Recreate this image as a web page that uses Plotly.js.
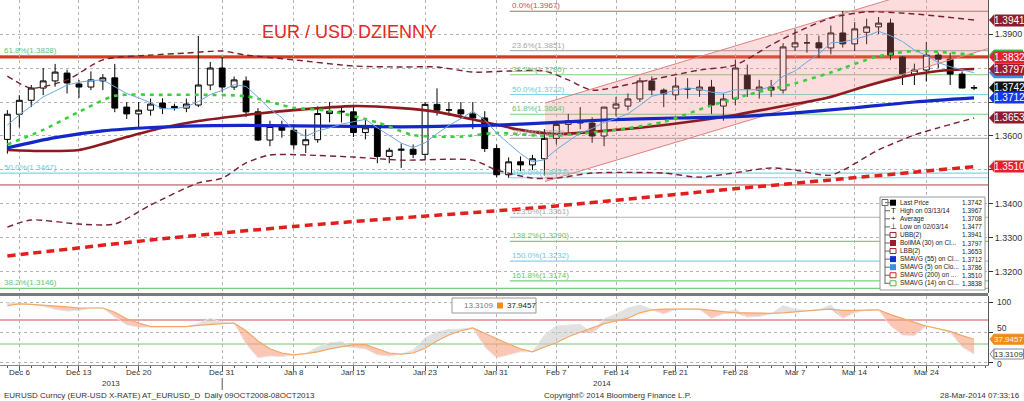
<!DOCTYPE html>
<html><head><meta charset="utf-8">
<script src="https://cdn.plot.ly/plotly-3.0.1.min.js"></script>
<style>html,body{margin:0;padding:0;background:#fff}#chart{width:1024px;height:401px}</style>
</head><body><div id="chart"></div><script>
// ---------- DATA ----------
const tickIdx  = [1,6,11,18,24,29,35,41,46,51,56,61,66,71,77];
const tickText = ["Dec 6","Dec 13","Dec 20","Dec 31","Jan 8","Jan 15","Jan 23","Jan 31","Feb 7","Feb 14","Feb 21","Feb 28","Mar 7","Mar 14","Mar 24"];

const open  = [1.3590,1.3664,1.3705,1.3741,1.3762,1.3785,1.3753,1.3744,1.3762,1.3771,1.3685,1.3665,1.3676,1.3697,1.3687,1.3682,1.3691,1.3750,1.3800,1.3744,1.3762,1.3671,1.3588,1.3628,1.3617,1.3574,1.3589,1.3666,1.3673,1.3671,1.3610,1.3624,1.3540,1.3558,1.3561,1.3546,1.3693,1.3676,1.3677,1.3665,1.3653,1.3563,1.3486,1.3524,1.3515,1.3533,1.3593,1.3634,1.3645,1.3638,1.3600,1.3682,1.3688,1.3709,1.3762,1.3735,1.3721,1.3740,1.3735,1.3744,1.3688,1.3709,1.3779,1.3735,1.3744,1.3735,1.3862,1.3874,1.3874,1.3859,1.3903,1.3871,1.3905,1.3921,1.3932,1.3832,1.3782,1.3794,1.3838,1.3826,1.3782,1.3741];
const high  = [1.3676,1.3720,1.3750,1.3800,1.3812,1.3795,1.3765,1.3790,1.3782,1.3812,1.3700,1.3700,1.3710,1.3711,1.3695,1.3710,1.3894,1.3818,1.3832,1.3775,1.3775,1.3682,1.3645,1.3645,1.3635,1.3620,1.3687,1.3700,1.3687,1.3685,1.3650,1.3633,1.3565,1.3578,1.3575,1.3700,1.3740,1.3700,1.3700,1.3700,1.3673,1.3575,1.3537,1.3540,1.3545,1.3620,1.3640,1.3665,1.3685,1.3655,1.3685,1.3715,1.3725,1.3772,1.3775,1.3740,1.3773,1.3770,1.3765,1.3765,1.3725,1.3825,1.3810,1.3765,1.3765,1.3873,1.3915,1.3900,1.3895,1.3925,1.3967,1.3935,1.3945,1.3950,1.3945,1.3835,1.3813,1.3877,1.3845,1.3845,1.3790,1.3750];
const low   = [1.3548,1.3625,1.3685,1.3720,1.3745,1.3725,1.3712,1.3735,1.3735,1.3670,1.3650,1.3625,1.3660,1.3665,1.3675,1.3670,1.3685,1.3735,1.3730,1.3735,1.3656,1.3585,1.3570,1.3595,1.3560,1.3550,1.3580,1.3640,1.3640,1.3597,1.3590,1.3520,1.3520,1.3506,1.3535,1.3530,1.3660,1.3660,1.3650,1.3620,1.3553,1.3478,1.3477,1.3497,1.3500,1.3484,1.3575,1.3605,1.3620,1.3580,1.3570,1.3658,1.3675,1.3700,1.3720,1.3685,1.3705,1.3710,1.3715,1.3665,1.3645,1.3690,1.3715,1.3710,1.3715,1.3725,1.3850,1.3845,1.3830,1.3840,1.3860,1.3850,1.3870,1.3900,1.3823,1.3750,1.3750,1.3760,1.3800,1.3750,1.3740,1.3735];
const close = [1.3664,1.3705,1.3741,1.3762,1.3788,1.3756,1.3744,1.3765,1.3771,1.3682,1.3665,1.3676,1.3694,1.3682,1.3683,1.3694,1.3750,1.3800,1.3744,1.3765,1.3671,1.3588,1.3628,1.3617,1.3574,1.3589,1.3666,1.3673,1.3671,1.3610,1.3624,1.3540,1.3558,1.3561,1.3546,1.3693,1.3676,1.3677,1.3665,1.3653,1.3563,1.3486,1.3524,1.3515,1.3533,1.3593,1.3634,1.3645,1.3638,1.3600,1.3685,1.3694,1.3709,1.3762,1.3735,1.3724,1.3747,1.3738,1.3744,1.3691,1.3709,1.3800,1.3738,1.3744,1.3735,1.3862,1.3874,1.3874,1.3859,1.3903,1.3871,1.3915,1.3921,1.3932,1.3838,1.3782,1.3794,1.3838,1.3826,1.3782,1.3741,1.3742];

const sma5 = [1.3632,1.3662,1.3688,1.3715,1.3732,1.3750,1.3758,1.3763,1.3765,1.3744,1.3725,1.3712,1.3698,1.3680,1.3680,1.3686,1.3701,1.3722,1.3734,1.3751,1.3746,1.3714,1.3679,1.3654,1.3616,1.3599,1.3615,1.3624,1.3635,1.3642,1.3649,1.3624,1.3601,1.3579,1.3566,1.3580,1.3607,1.3631,1.3651,1.3673,1.3647,1.3609,1.3578,1.3548,1.3524,1.3530,1.3560,1.3584,1.3609,1.3622,1.3640,1.3652,1.3665,1.3690,1.3717,1.3725,1.3735,1.3741,1.3738,1.3729,1.3726,1.3736,1.3736,1.3736,1.3745,1.3776,1.3791,1.3818,1.3841,1.3874,1.3876,1.3884,1.3894,1.3908,1.3895,1.3878,1.3853,1.3837,1.3816,1.3804,1.3796,1.3786];

const sma14I = [0,3,6,9,13,16,20,24,27,31,34,38,41,45,48,52,55,59,62,66,69,73,76,79,81];
const sma14V = [1.3575,1.3618,1.3671,1.3718,1.3721,1.3721,1.3717,1.3683,1.3674,1.3640,1.3603,1.3598,1.3609,1.3600,1.3607,1.3623,1.3642,1.3690,1.3721,1.3755,1.3787,1.3835,1.3850,1.3845,1.3838];

const sma55I = [0,4,8,12,16,20,24,29,33,37,41,46,50,56,61,66,71,76,81];
const sma55V = [1.3565,1.3595,1.3615,1.3625,1.3630,1.3631,1.3630,1.3628,1.3627,1.3629,1.3632,1.3640,1.3647,1.3653,1.3657,1.3668,1.3683,1.3700,1.3712];

const sma200I = [0,12,24,33,45,58,70,81];
const sma200V = [1.3247,1.3294,1.3334,1.3359,1.3391,1.3435,1.3474,1.3510];

const bollI = [0,3,6,10,13,16,20,24,29,33,36,40,43,46,49,53,57,61,65,69,72,75,78,81];
const bollV = [1.3559,1.3556,1.3559,1.3597,1.3624,1.3644,1.3662,1.3676,1.3688,1.3682,1.3671,1.3641,1.3618,1.3606,1.3612,1.3624,1.3641,1.3662,1.3688,1.3715,1.3747,1.3774,1.3791,1.3797];

const ubbI = [0,2,5,8,12,15,18,20,24,29,33,36,39,42,45,47,49,53,58,61,64,66,69,72,76,81];
const ubbV = [1.3776,1.3741,1.3765,1.3824,1.3838,1.3844,1.3850,1.3838,1.3824,1.3806,1.3803,1.3803,1.3788,1.3791,1.3791,1.3765,1.3735,1.3759,1.3794,1.3809,1.3868,1.3903,1.3947,1.3965,1.3959,1.3941];

const lbbI = [0,2,6,9,12,16,18,20,22,25,29,33,39,41,44,46,49,55,58,64,66,69,73,76,78,81];
const lbbV = [1.3332,1.3353,1.3341,1.3341,1.3397,1.3462,1.3476,1.3521,1.3544,1.3544,1.3538,1.3529,1.3529,1.3500,1.3476,1.3476,1.3491,1.3491,1.3479,1.3506,1.3500,1.3485,1.3559,1.3603,1.3624,1.3653];

// regression channel (start index, end index) and its edges
const chanX     = [45.05, 82.17];
const chanUpper = [1.3697, 1.4088];
const chanLower = [1.3466, 1.3857];

// Fibonacci set drawn from the 02/03 low (starts at index 42.1)
const fibStart = 42.1;
const fibPct   = ["0.0%","23.6%","38.2%","50.0%","61.8%","76.4%","100.0%","123.6%","138.2%","150.0%","161.8%"];
const fibVal   = [1.3967,1.3851,1.3780,1.3722,1.3664,1.3593,1.3477,1.3361,1.3290,1.3232,1.3174];
const fibKind  = ["r","g","G","c","G","g","c","g","G","c","G"];
// full-width older fib set
const oldPct = ["61.8%","50.0%","38.2%"];
const oldVal = [1.3828,1.3467,1.3146];
const oldLineVal = [1.3836,1.3491,1.3152];
const oldKind = ["G","c","G"];
const redLevel = 1.3832;
const brownLevel = 1.3456;

// oscillator
const oscA = [94,97,96,95,94,92,90,90,90,83,72,65,59,59,59,59,61,63,64,65,52,35,22,15,12,14,17,22,26,29,29,22,15,13,15,23,35,45,52,57,48,38,30,22,17,25,32,42,50,57,64,69,73,82,87,88,88,88,88,86,84,82,82,81,81,82,84,85,87,88,86,86,87,87,79,72,66,60,55,51,44,37.9457];
const oscB = [99,98,96,93,88,85,86,90,90,75,62,58,59,59,59,59,64,73,66,65,30,7,10,9,12,14,25,32,34,24,22,12,10,13,20,40,50,54,55,57,25,7,12,17,17,45,60,62,63,48,72,80,90,95,87,80,88,88,88,73,80,88,75,76,80,94,88,86,87,95,73,82,87,87,60,45,44,60,55,50,25,13.3109];
const oscUpper = 70, oscLower = 30;

// right-hand value tags (first two are hidden under the others: drawn without text)
const tagVals   = [1.3838,1.3786,1.3941,1.3832,1.3797,1.3742,1.3712,1.3653,1.3510];
const tagColors = ["#3cb03c","#3c8edc","#8c1c2c","#e4202c","#9c1c30","#101010","#1438e8","#8c1c2c","#e4202c"];
const tagShown  = [false,false,true,true,true,true,true,true,true];

// legend
const legNames = ["Last Price","High on 03/13/14","Average","Low on 02/03/14","UBB(2)","BollMA (30) on Cl...","LBB(2)","SMAVG (55) on Cl...","SMAVG (5) on Clo...","SMAVG (200) on ...","SMAVG (14) on Cl..."];
const legVals  = ["1.3742","1.3967","1.3708","1.3477","1.3941","1.3797","1.3653","1.3712","1.3786","1.3510","1.3838"];
const legIcon  = ["sq:#000","T","+","L","br:#a02030","sq:#9c1c30","br:#a02030","sq:#1030d0","sq:#3c90e0","br:#e02020","br:#40c040"];

// ---------- LAYOUT HELPERS ----------
const W = 988, H = 365;
const PX = x => x / W;
const PY = y => (H - y) / H;
const FONT = "Liberation Sans, Arial, sans-serif";
const idx = close.map((_, i) => i);
const kindColor = {r:"#c06060", g:"#b0b0b0", G:"#7ccf7c", c:"#7fd6e4"};
const kindText  = {r:"#c05050", g:"#a8a8a8", G:"#6cc46c", c:"#6cc8dc"};

const traces = [];
// channel
traces.push({x: chanX, y: chanLower, type:"scatter", mode:"lines", line:{color:"#e08080", width:1}, hoverinfo:"skip", xaxis:"x", yaxis:"y"});
traces.push({x: chanX, y: chanUpper, type:"scatter", mode:"lines", fill:"tonexty", fillcolor:"rgba(245,130,130,0.28)", line:{color:"#e08080", width:1}, hoverinfo:"skip", xaxis:"x", yaxis:"y"});
// candles
traces.push({type:"candlestick", x: idx, open, high, low, close, xaxis:"x", yaxis:"y",
  increasing:{line:{color:"#000", width:1}, fillcolor:"#fff"},
  decreasing:{line:{color:"#000", width:1}, fillcolor:"#000"},
  whiskerwidth:0, hoverinfo:"skip"});
// moving averages
const sp = {shape:"spline", smoothing:0.7};
traces.push({x: sma200I, y: sma200V, mode:"lines", line:Object.assign({color:"#e0201c", width:3.5, dash:"8px,5px"}, sp), hoverinfo:"skip"});
traces.push({x: lbbI, y: lbbV, mode:"lines", line:Object.assign({color:"#7a2030", width:1.4, dash:"6px,4px"}, sp), hoverinfo:"skip"});
traces.push({x: ubbI, y: ubbV, mode:"lines", line:Object.assign({color:"#7a2030", width:1.4, dash:"6px,4px"}, sp), hoverinfo:"skip"});
traces.push({x: bollI, y: bollV, mode:"lines", line:Object.assign({color:"#8c1a1e", width:2.6}, sp), hoverinfo:"skip"});
traces.push({x: sma55I, y: sma55V, mode:"lines", line:Object.assign({color:"#1428c8", width:3.2}, sp), hoverinfo:"skip"});
traces.push({x: sma14I, y: sma14V, mode:"lines", line:Object.assign({color:"#38d038", width:2.6, dash:"4px,5px"}, sp), hoverinfo:"skip"});
traces.push({x: idx, y: sma5, mode:"lines", line:{color:"#6aa8e0", width:1}, hoverinfo:"skip"});

// oscillator fills
const oscMin = oscA.map((a, i) => Math.min(a, oscB[i]));
traces.push({x: idx, y: oscMin, mode:"lines", line:{width:0}, xaxis:"x", yaxis:"y2", hoverinfo:"skip"});
traces.push({x: idx, y: oscA, mode:"lines", fill:"tonexty", fillcolor:"rgba(248,160,130,0.6)", line:{width:0}, xaxis:"x", yaxis:"y2", hoverinfo:"skip"});
traces.push({x: idx, y: oscMin, mode:"lines", line:{width:0}, xaxis:"x", yaxis:"y2", hoverinfo:"skip"});
traces.push({x: idx, y: oscB, mode:"lines", fill:"tonexty", fillcolor:"rgba(200,200,200,0.55)", line:{width:0}, xaxis:"x", yaxis:"y2", hoverinfo:"skip"});
traces.push({x: idx, y: oscB, mode:"lines", line:{color:"#e6e6e6", width:1}, xaxis:"x", yaxis:"y2", hoverinfo:"skip"});
traces.push({x: idx, y: oscA, mode:"lines", line:{color:"#f0a868", width:1.2}, xaxis:"x", yaxis:"y2", hoverinfo:"skip"});

traces.forEach(t => { if (!t.type) t.type = "scatter"; t.showlegend = false; });

// ---------- SHAPES & ANNOTATIONS ----------
const shapes = [], ann = [];
const XR = [-0.618, 82.17];

// full-width older levels
shapes.push({type:"line", xref:"paper", yref:"y", x0:0, x1:1, y0:brownLevel, y1:brownLevel, line:{color:"#b04040", width:1}, layer:"below"});
oldLineVal.forEach((v, i) => {
  shapes.push({type:"line", xref:"paper", yref:"y", x0:0, x1:1, y0:v, y1:v, line:{color:kindColor[oldKind[i]], width:1.2}, layer:"below"});
  ann.push({xref:"paper", yref:"y", x:0.002, y:v, xanchor:"left", yanchor:"bottom", yshift:-1, showarrow:false,
    text: oldPct[i] + "(" + oldVal[i].toFixed(4) + ")", font:{family:FONT, size:8, color:kindText[oldKind[i]]}});
});
shapes.push({type:"line", xref:"paper", yref:"y", x0:0, x1:1, y0:redLevel, y1:redLevel, line:{color:"#d43a22", width:3}, layer:"below"});
// fib set
fibVal.forEach((v, i) => {
  shapes.push({type:"line", xref:"x", yref:"y", x0:fibStart, x1:XR[1], y0:v, y1:v, line:{color:kindColor[fibKind[i]], width:1.1}, layer:"below"});
  ann.push({xref:"x", yref:"y", x:fibStart, y:v, xanchor:"left", yanchor:"bottom", yshift:-1, showarrow:false,
    text: fibPct[i] + "(" + v.toFixed(4) + ")", font:{family:FONT, size:8, color:kindText[fibKind[i]]}});
});
// oscillator levels
shapes.push({type:"line", xref:"paper", yref:"y2", x0:0, x1:1, y0:oscUpper, y1:oscUpper, line:{color:"#d05050", width:1}, layer:"below"});
shapes.push({type:"line", xref:"paper", yref:"y2", x0:0, x1:1, y0:oscLower, y1:oscLower, line:{color:"#70c870", width:1}, layer:"below"});
// panel separator
shapes.push({type:"line", xref:"paper", yref:"paper", x0:0, x1:1, y0:PY(294.5), y1:PY(294.5), line:{color:"#7a7a7a", width:3}});

// title
ann.push({xref:"paper", yref:"paper", x:PX(349), y:PY(32), xanchor:"center", yanchor:"middle", showarrow:false,
  text:"EUR / USD DZIENNY", font:{family:FONT, size:18, color:"#e8251f"}});

// value tags
const th = 5.5 / 3400;
tagVals.forEach((v, i) => {
  shapes.push({type:"path", xref:"paper", yref:"y",
    path:`M ${PX(989)},${v} L ${PX(994)},${v + th} L ${PX(994)},${v - th} Z`, fillcolor:tagColors[i], line:{width:0}});
  if (tagShown[i]) {
    ann.push({xref:"paper", yref:"y", x:PX(994), y:v, xanchor:"left", yanchor:"middle", showarrow:false,
      text:v.toFixed(4), width:29, height:11, bgcolor:tagColors[i], borderpad:0,
      font:{family:FONT, size:10, color:"#fff"}});
  } else {
    const h = 5.5 / 3400;
    shapes.push({type:"rect", xref:"paper", yref:"y", x0:PX(994), x1:PX(1023), y0:v - h, y1:v + h, fillcolor:tagColors[i], line:{width:0}});
  }
});
// oscillator tags
const oscTh = 5 / 0.6;
[[oscA[oscA.length-1], "#f08c1e", "#fff6e0", "#f08c1e"], [oscB[oscB.length-1], "#ffffff", "#333", "#888"]].forEach(([v, bg, fc, bc]) => {
  shapes.push({type:"path", xref:"paper", yref:"y2",
    path:`M ${PX(990)},${v} L ${PX(994)},${v + oscTh} L ${PX(994)},${v - oscTh} Z`, fillcolor:bg, line:{color:bc, width:1}});
  shapes.push({type:"rect", xref:"paper", yref:"y2", x0:PX(994), x1:PX(1023.5), y0:v - oscTh, y1:v + oscTh, fillcolor:bg, line:{color:bc, width:1}});
  ann.push({xref:"paper", yref:"y2", x:PX(1008.5), y:v, xanchor:"center", yanchor:"middle", showarrow:false,
    text:v.toFixed(4), font:{family:FONT, size:8, color:fc}});
});
// oscillator legend
shapes.push({type:"rect", xref:"paper", yref:"paper", x0:PX(452), x1:PX(536), y0:PY(298), y1:PY(313), line:{color:"#999", width:1}, fillcolor:"#fff"});
ann.push({xref:"paper", yref:"paper", x:PX(478), y:PY(305.5), xanchor:"center", yanchor:"middle", showarrow:false,
  text:oscB[oscB.length-1].toFixed(4), font:{family:FONT, size:8, color:"#777"}});
shapes.push({type:"rect", xref:"paper", yref:"paper", x0:PX(497), x1:PX(503), y0:PY(302.5), y1:PY(308.5), line:{width:0}, fillcolor:"#f08c1e"});
ann.push({xref:"paper", yref:"paper", x:PX(505), y:PY(305.5), xanchor:"left", yanchor:"middle", showarrow:false,
  text:oscA[oscA.length-1].toFixed(4), font:{family:FONT, size:8, color:"#222"}});

// main legend box
shapes.push({type:"rect", xref:"paper", yref:"paper", x0:PX(880), x1:PX(985), y0:PY(197), y1:PY(290), line:{color:"#9a9a9a", width:1}, fillcolor:"#fff"});
shapes.push({type:"line", xref:"paper", yref:"paper", x0:PX(885), x1:PX(885), y0:PY(203), y1:PY(284), line:{color:"#666", width:1}});
shapes.push({type:"rect", xref:"paper", yref:"paper", x0:PX(882), x1:PX(888), y0:PY(199.5), y1:PY(205.5), line:{color:"#666", width:1}, fillcolor:"#fff"});
legNames.forEach((nm, i) => {
  const yy = 202.7 + i * 8.06;
  shapes.push({type:"line", xref:"paper", yref:"paper", x0:PX(885), x1:PX(890), y0:PY(yy), y1:PY(yy), line:{color:"#666", width:1}});
  const ic = legIcon[i];
  if (ic.startsWith("sq:")) {
    shapes.push({type:"rect", xref:"paper", yref:"paper", x0:PX(890), x1:PX(896), y0:PY(yy-3), y1:PY(yy+3), line:{width:0}, fillcolor:ic.slice(3)});
  } else if (ic.startsWith("br:")) {
    shapes.push({type:"rect", xref:"paper", yref:"paper", x0:PX(890), x1:PX(896), y0:PY(yy-2.5), y1:PY(yy+2.5), line:{color:ic.slice(3), width:1}, fillcolor:"#fff"});
  } else {
    ann.push({xref:"paper", yref:"paper", x:PX(893), y:PY(yy), xanchor:"center", yanchor:"middle", showarrow:false,
      text: ic === "L" ? "⊥" : ic, font:{family:FONT, size:8, color:"#111"}});
  }
  ann.push({xref:"paper", yref:"paper", x:PX(898), y:PY(yy), xanchor:"left", yanchor:"middle", showarrow:false,
    text:nm, font:{family:FONT, size:6.5, color:"#222"}});
  ann.push({xref:"paper", yref:"paper", x:PX(983.5), y:PY(yy), xanchor:"right", yanchor:"middle", showarrow:false,
    text:legVals[i], font:{family:FONT, size:6.5, color:"#222"}});
});

// x tick labels (drawn close under the axis), year labels and footer
tickIdx.forEach((t, i) => {
  ann.push({xref:"x", yref:"paper", x:t, y:PY(372.5), xanchor:"center", yanchor:"middle", showarrow:false,
    text:tickText[i], font:{family:FONT, size:8, color:"#333"}});
});
ann.push({xref:"paper", yref:"paper", x:PX(111), y:PY(384), xanchor:"center", yanchor:"middle", showarrow:false, text:"2013", font:{family:FONT, size:8, color:"#333"}});
ann.push({xref:"paper", yref:"paper", x:PX(602), y:PY(384), xanchor:"center", yanchor:"middle", showarrow:false, text:"2014", font:{family:FONT, size:8, color:"#333"}});
shapes.push({type:"line", xref:"x", yref:"paper", x0:18, x1:18, y0:PY(378), y1:PY(390), line:{color:"#555", width:1}});
ann.push({xref:"paper", yref:"paper", x:PX(2), y:PY(395.5), xanchor:"left", yanchor:"middle", showarrow:false,
  text:"EURUSD Curncy (EUR-USD X-RATE) AT_EURUSD_D  Daily 09OCT2008-08OCT2013", font:{family:FONT, size:8, color:"#333"}});
ann.push({xref:"paper", yref:"paper", x:PX(542), y:PY(395.5), xanchor:"left", yanchor:"middle", showarrow:false,
  text:"Copyright© 2014 Bloomberg Finance L.P.", font:{family:FONT, size:8, color:"#333"}});
ann.push({xref:"paper", yref:"paper", x:PX(1022), y:PY(395.5), xanchor:"right", yanchor:"middle", showarrow:false,
  text:"28-Mar-2014 07:33:16", font:{family:FONT, size:8, color:"#333"}});
// oscillator axis labels
[[100, 0], [50, 4], [0, -2]].forEach(([v, dy]) => {
  ann.push({xref:"paper", yref:"y2", x:PX(995), y:v, yshift:dy, xanchor:"left", yanchor:"middle", showarrow:false,
    text:String(v), font:{family:FONT, size:8.5, color:"#333"}});
});

// ---------- AXES ----------
const yTickVals = [1.32,1.33,1.34,1.35,1.36,1.37,1.38,1.39];
const yTickText = ["1.3200","1.3300","1.3400","","1.3600","","","1.3900"];

const layout = {
  width:1024, height:401, margin:{l:0, r:36, t:0, b:36},
  paper_bgcolor:"#fff", plot_bgcolor:"#fff", showlegend:false,
  font:{family:FONT, size:9, color:"#333"},
  xaxis:{type:"linear", range:XR, anchor:"y2", tickvals:tickIdx, showticklabels:false,
    showgrid:true, gridcolor:"#b4b4b4", griddash:"dot", gridwidth:1, zeroline:false,
    ticks:"outside", ticklen:5, tickcolor:"#555",
    minor:{tick0:0, dtick:1, ticks:"outside", ticklen:2, tickcolor:"#555", showgrid:false},
    showline:true, linecolor:"#888", rangeslider:{visible:false}, fixedrange:true},
  yaxis:{domain:[PY(293), 1], range:[1.31382, 1.40], side:"right", anchor:"x",
    tickvals:yTickVals, ticktext:yTickText, showgrid:true, gridcolor:"#b4b4b4", griddash:"dot",
    ticks:"outside", ticklen:4, tickcolor:"#333", showline:true, linecolor:"#555", zeroline:false,
    tickfont:{family:FONT, size:9, color:"#333"}, fixedrange:true},
  yaxis2:{domain:[0, PY(296)], range:[-5, 110], side:"right", anchor:"x",
    tickvals:[0,50,100], showticklabels:false, showgrid:true, gridcolor:"#b4b4b4", griddash:"dot",
    ticks:"outside", ticklen:4, tickcolor:"#333", showline:true, linecolor:"#555", zeroline:false,
    fixedrange:true},
  shapes, annotations:ann
};

Plotly.newPlot("chart", traces, layout, {staticPlot:true, displayModeBar:false});
</script></body></html>
